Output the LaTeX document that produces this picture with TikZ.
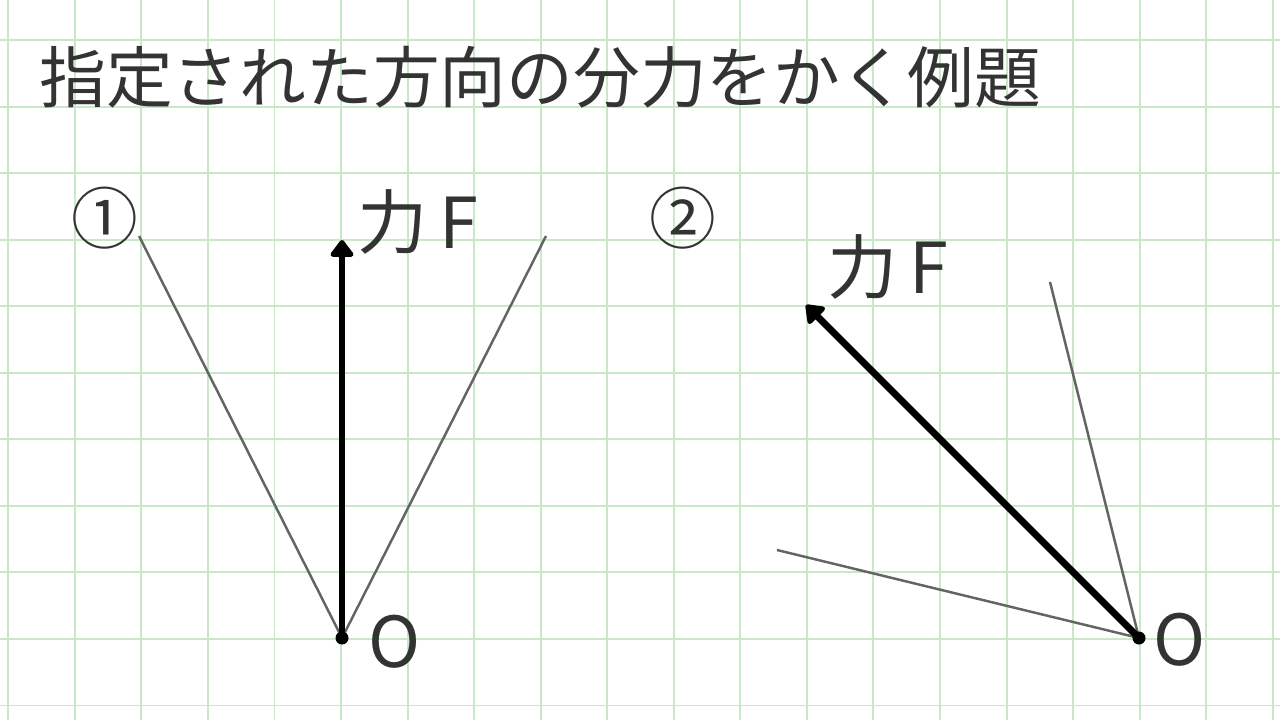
\documentclass[tikz,border=0pt]{standalone}
\usepackage{fontspec}
\setmainfont{Noto Sans CJK JP}
\usetikzlibrary{arrows.meta}
\definecolor{gridgreen}{RGB}{200,232,200}
\definecolor{ink}{RGB}{51,51,51}
\definecolor{guide}{RGB}{100,100,100}
\tikzset{
  force/.style={line width=3.9pt,-{Triangle[width=15pt,length=10.5pt,round]}},
  dirline/.style={guide,line width=1.4pt},
  lbl/.style={inner sep=0pt,text=ink,font=\fontsize{40pt}{48pt}\selectfont},
  big/.style={inner sep=0pt,text=ink,font=\fontsize{38pt}{46pt}\selectfont}
}
\begin{document}
\begin{tikzpicture}[x=0.02cm,y=-0.02cm]
    \useasboundingbox (0,0) rectangle (1280,720);
    % grid
    \foreach \i in {0,...,19}
      \draw[gridgreen,line width=1.1pt] (8.3+66.55*\i,0) -- (8.3+66.55*\i,720);
    \foreach \j in {0,...,10}
      \draw[gridgreen,line width=1.1pt] (0,40+66.55*\j) -- (1280,40+66.55*\j);

    \node[big,anchor=base west](title) at (39,102){指定された方向の分力をかく例題};

    % 1
    \node[big](n1) at (105,218){①};
    \coordinate (O1) at (342,638);
    \coordinate (F1) at (342,240);
    \coordinate (a1) at (139,236);
    \coordinate (b1) at (546,236);
    \draw[dirline] (O1) -- (a1);
    \draw[dirline] (O1) -- (b1);
    \draw[force] (O1) -- (F1);
    \fill (O1) circle (6.5);
    \node[lbl,anchor=base west](f1) at (357,248){力\,F};
    \node[lbl,anchor=base west](o1) at (368,667){O};

    % 2
    \node[big](n2) at (683,218){②};
    \coordinate (O2) at (1139,638);
    \coordinate (F2) at (806,305);
    \coordinate (a2) at (1050,282);
    \coordinate (b2) at (777,550);
    \draw[dirline] (O2) -- (a2);
    \draw[dirline] (O2) -- (b2);
    \draw[force] (O2) -- (F2);
    \fill (O2) circle (6.5);
    \node[lbl,anchor=base west](f2) at (827,293){力\,F};
    \node[lbl,anchor=base west](o2) at (1153,665){O};
\end{tikzpicture}
\end{document}
